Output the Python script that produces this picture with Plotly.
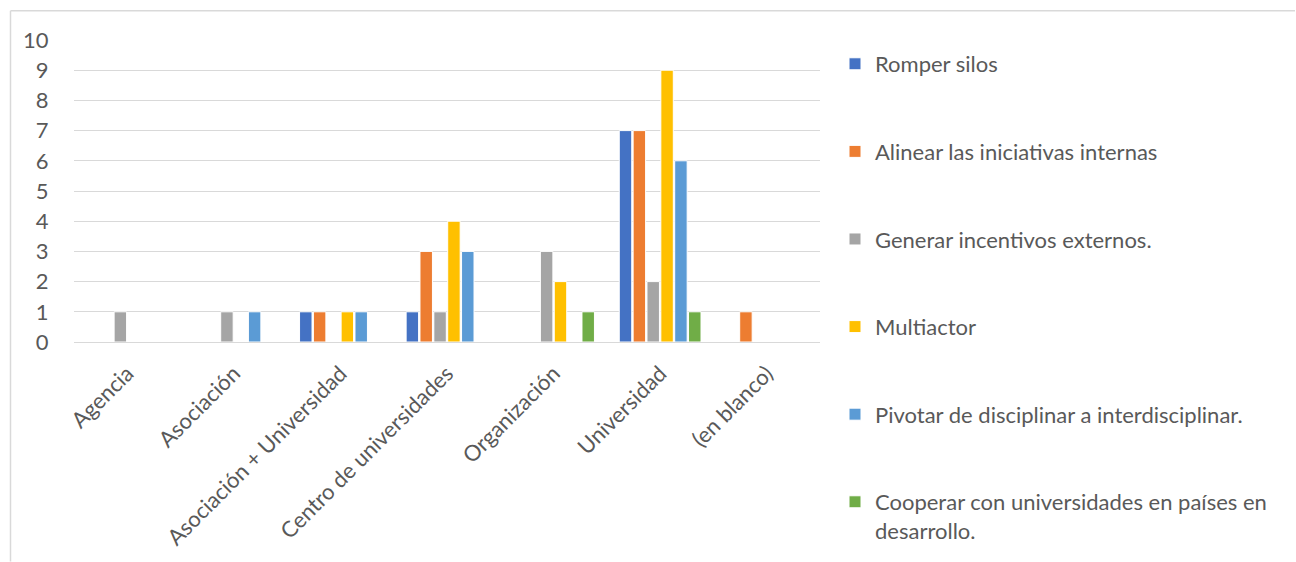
import plotly.graph_objects as go

categories = ["Agencia", "Asociación", "Asociación + Universidad", "Centro de universidades",
              "Organización", "Universidad", "(en blanco)"]

series_names = [
    "Romper silos",
    "Alinear las iniciativas internas",
    "Generar incentivos externos.",
    "Multiactor",
    "Pivotar de disciplinar a interdisciplinar.",
    "Cooperar con universidades en países en<br>desarrollo.",
]

romper = [None, None, 1, 1, None, 7, None]
alinear = [None, None, 1, 3, None, 7, 1]
generar = [1, 1, None, 1, 3, 2, None]
multiactor = [None, None, 1, 4, 2, 9, None]
pivotar = [None, 1, 1, 3, None, 6, None]
cooperar = [None, None, None, None, 1, 1, None]

series_values = [romper, alinear, generar, multiactor, pivotar, cooperar]
colors = ["#4472C4", "#ED7D31", "#A5A5A5", "#FFC000", "#5B9BD5", "#70AD47"]

W, H = 1296, 562
L, R, T, B = 74, 820, 40, 344

FONT = "Lato"
TXT = "#595959"
FS = 22

fig = go.Figure()
for i, (name, vals, col) in enumerate(zip(series_names, series_values, colors)):
    fig.add_trace(go.Bar(
        x=categories, y=vals, name=name, legendgroup=f"g{i}",
        marker=dict(color=col, line=dict(color="white", width=1)),
    ))

def px_x(p):
    return (p - L) / (R - L)

def px_y(p):
    return (B - p) / (B - T)

fig.add_shape(type="line", xref="paper", yref="paper",
              x0=px_x(10.5), x1=px_x(1295), y0=px_y(10.5), y1=px_y(10.5),
              line=dict(color="#D9D9D9", width=1.5))
fig.add_shape(type="line", xref="paper", yref="paper",
              x0=px_x(10.5), x1=px_x(10.5), y0=px_y(10.5), y1=px_y(565),
              line=dict(color="#D9D9D9", width=1.5))

fig.update_layout(
    width=W, height=H,
    margin=dict(l=L, r=W - R, t=T, b=H - B, pad=0),
    paper_bgcolor="white", plot_bgcolor="white",
    barmode="group", bargap=0.22, bargroupgap=0.1,
    font=dict(family=FONT, size=FS, color=TXT),
    showlegend=True,
    legend=dict(
        x=px_x(835), xanchor="left", y=px_y(43), yanchor="top",
        font=dict(family=FONT, size=FS, color=TXT),
        tracegroupgap=56, valign="top", bgcolor="rgba(0,0,0,0)",
        itemclick=False, maxheight=560,
    ),
    xaxis=dict(
        tickangle=-45, showgrid=False, showline=False, ticks="outside", ticklen=0,
        ticklabelstandoff=9,
        tickfont=dict(family=FONT, size=FS, color=TXT),
    ),
    yaxis=dict(
        range=[0, 10], dtick=1, tick0=0,
        showgrid=True, gridcolor="#D9D9D9", gridwidth=1.3,
        zeroline=True, zerolinecolor="#D9D9D9", zerolinewidth=1.3,
        showline=False, ticks="outside", ticklen=0, ticklabelstandoff=20,
        tickfont=dict(family=FONT, size=FS, color=TXT),
    ),
)

fig.write_html("out.html", config={"displayModeBar": False},
               post_script="document.body.style.margin='0';")
